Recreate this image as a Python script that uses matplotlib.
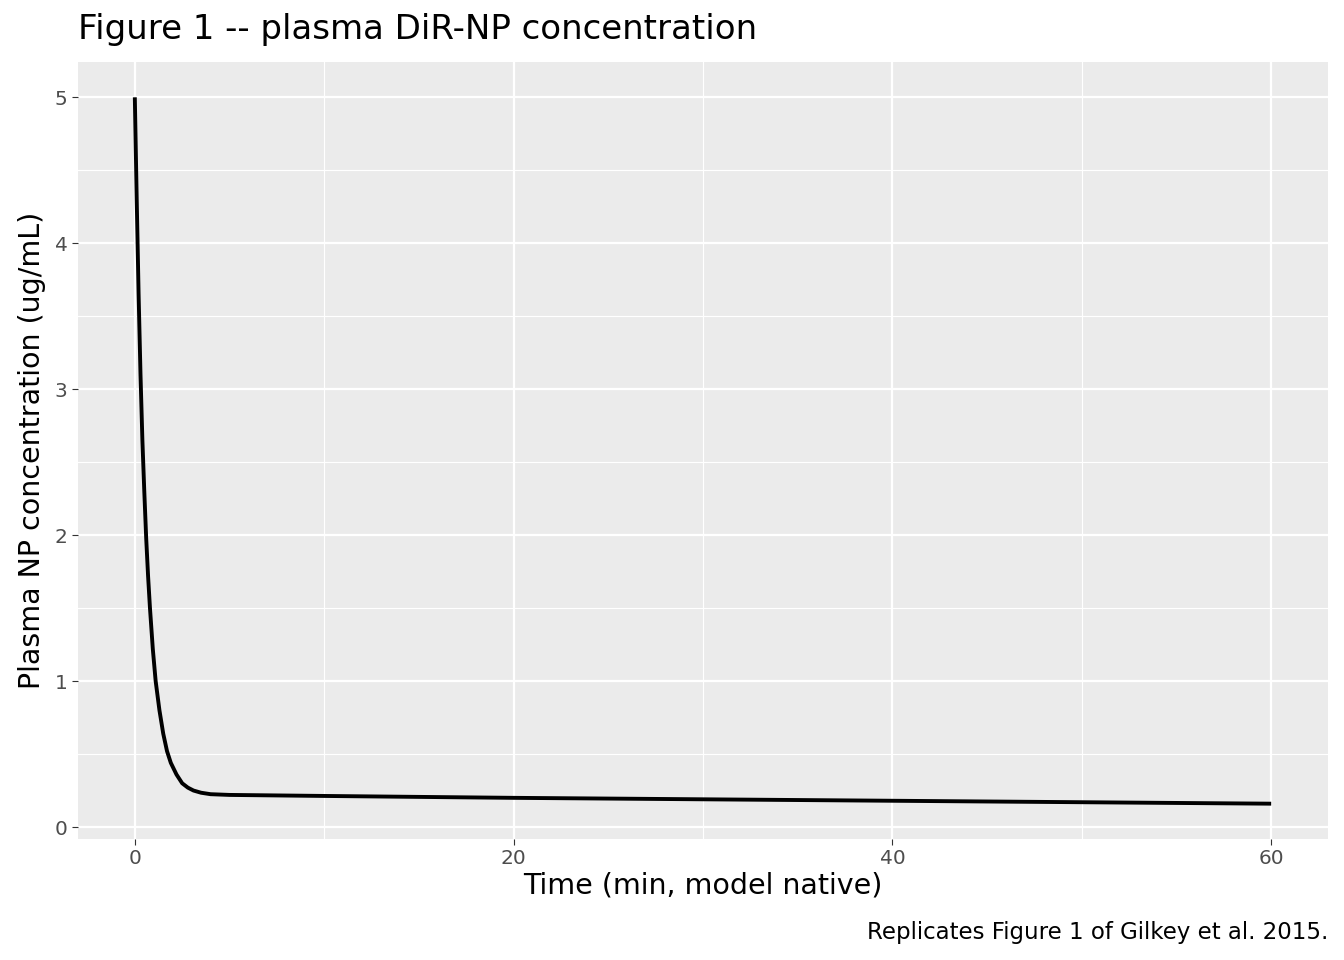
import matplotlib.pyplot as plt

# values
time_min = [0, 0.1, 0.2, 0.3, 0.4, 0.5, 0.6, 0.7, 0.8, 0.95, 1.1, 1.3, 1.5, 1.7, 1.9, 2.2, 2.5, 2.8,
            3.1, 3.5, 4.0, 5.0, 10, 20, 30, 40, 50, 60]
conc = [5.0, 4.3, 3.65, 3.1, 2.65, 2.3, 1.98, 1.72, 1.5, 1.22, 1.0, 0.8, 0.64, 0.52, 0.44, 0.36, 0.30,
        0.27, 0.25, 0.235, 0.225, 0.22, 0.213, 0.20, 0.19, 0.18, 0.17, 0.16]

fig = plt.figure(figsize=(13.44, 9.6), dpi=100)
ax = fig.add_axes([78/1344, 1 - 839/960, 1250/1344, 777/960])
ax.set_facecolor('#EBEBEB')
for s in ax.spines.values():
    s.set_visible(False)

ax.plot(time_min, conc, color='black', lw=2.8, solid_capstyle='butt')
ax.set_xlim(-3, 63)
ax.set_ylim(-0.082, 5.242)
ax.set_xticks([0, 20, 40, 60])
ax.set_xticks([10, 30, 50], minor=True)
ax.set_yticks([0, 1, 2, 3, 4, 5])
ax.set_yticks([0.5, 1.5, 2.5, 3.5, 4.5], minor=True)
ax.grid(True, which='major', color='white', lw=1.6)
ax.grid(True, which='minor', color='white', lw=0.8)
ax.set_axisbelow(True)
ax.tick_params(which='major', length=4, color='#333333', labelcolor='#4D4D4D', labelsize=14.5)
ax.tick_params(which='minor', length=0)

ax.set_xlabel('Time (min, model native)', fontsize=20.5, labelpad=2)
ax.set_ylabel('Plasma NP concentration (ug/mL)', fontsize=20.5, labelpad=6)
fig.text(78/1344, 1 - 30/960, 'Figure 1 -- plasma DiR-NP concentration', fontsize=24.5, va='center')
fig.text(1328/1344, 1 - 932/960, 'Replicates Figure 1 of Gilkey et al. 2015.', fontsize=16.5, ha='right', va='center')

fig.savefig('out.png', dpi=100)
